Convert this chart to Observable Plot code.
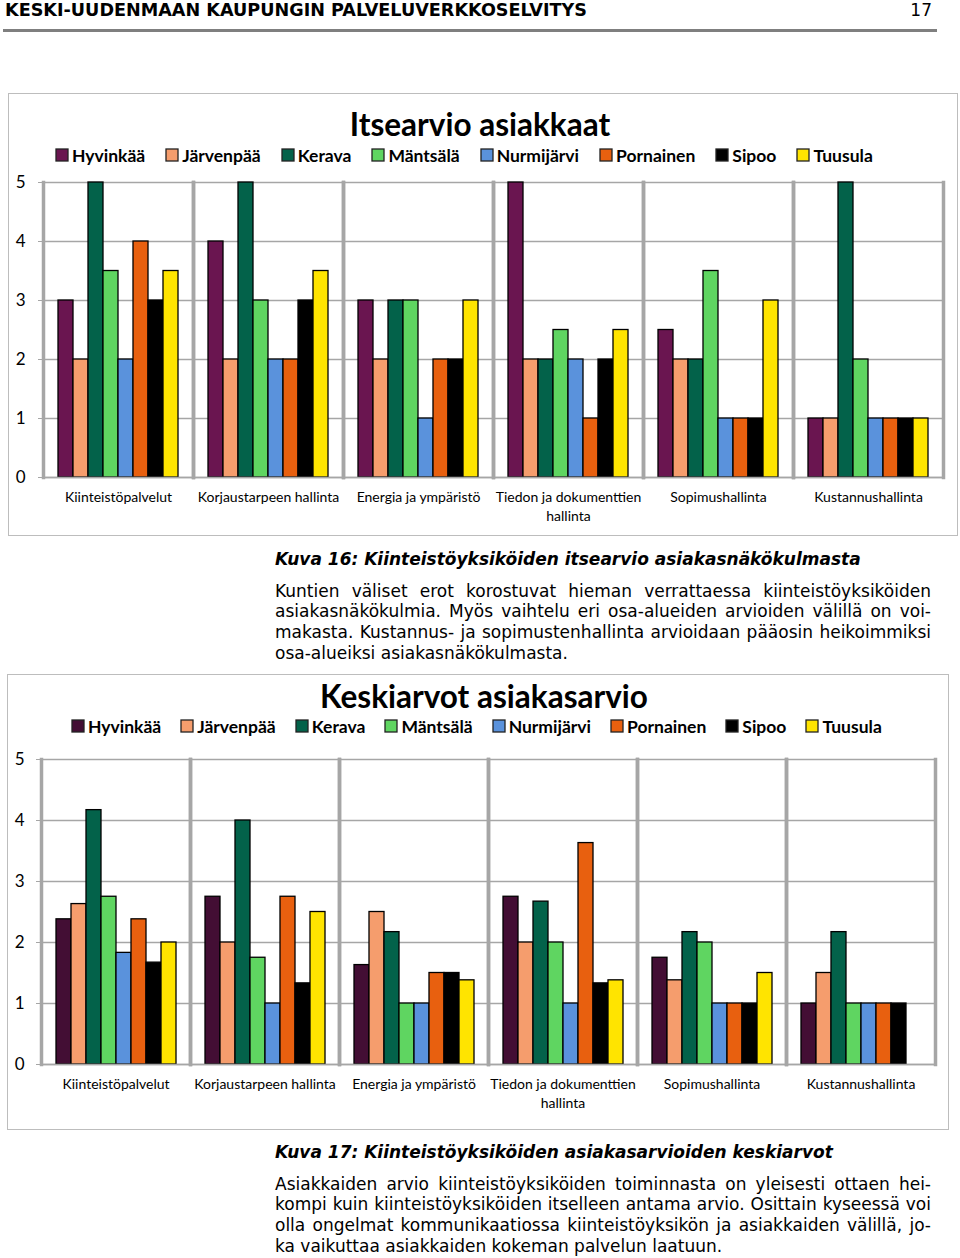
<!DOCTYPE html>
<html>
<head>
<meta charset="utf-8">
<script src="https://cdn.jsdelivr.net/npm/d3@7"></script>
<script src="https://cdn.jsdelivr.net/npm/@observablehq/plot@0.6"></script>
<style>
  html, body { margin: 0; padding: 0; background: #fff; }
  body { width: 960px; height: 1258px; position: relative; overflow: hidden; font-family: "DejaVu Sans", sans-serif; color: #000; }
  .abs { position: absolute; }
  #header { left: 5px; top: 0px; font: bold 17.6px "DejaVu Sans"; line-height: 20px; white-space: nowrap; }
  #pagenum { right: 28px; top: 0px; font: 17px "DejaVu Sans"; line-height: 20px; }
  #rule { left: 3px; top: 29px; width: 934px; height: 3px; background: #7f7f7f; }
  .box { border: 1.5px solid #bdbdbd; box-sizing: border-box; }
  .title { font-family: Lato, sans-serif; font-weight: bold; font-size: 31.5px; line-height: 1.2; text-align: center; white-space: nowrap; }
  .leg div.lg-swatches { font-family: Lato, sans-serif !important; font-weight: bold; font-size: 17.5px !important; margin: 0 !important; min-height: 24px !important; flex-wrap: nowrap !important; color: #000; }
  #leg1 span.lg-swatch { margin-right: 21px !important; }
  #leg2 span.lg-swatch { margin-right: 20px !important; }
  .leg span.lg-swatch > svg { margin-right: 4px !important; overflow: visible; }
  .leg span.lg-swatch > svg rect { stroke: #222; stroke-width: 1.3px; }
  .chart svg { background: transparent !important; overflow: visible; }
  .caption { left: 275px; font: italic bold 17px "DejaVu Sans"; line-height: 20px; white-space: nowrap; }
  .para { left: 275px; width: 656px; font: 17px "DejaVu Sans"; }
  .para div { height: 20.7px; line-height: 20.7px; text-align: justify; text-align-last: justify; white-space: nowrap; }
  .para div.last { text-align-last: left; }
</style>
</head>
<body>
<div id="header" class="abs">KESKI-UUDENMAAN KAUPUNGIN PALVELUVERKKOSELVITYS</div>
<div id="pagenum" class="abs">17</div>
<div id="rule" class="abs"></div>

<div class="abs box" style="left:8px; top:93px; width:950px; height:443px;"></div>
<div class="abs title" style="left:0px; top:106px; width:960px;">Itsearvio asiakkaat</div>
<div id="leg1" class="abs leg" style="left:56px; top:143px;"></div>
<div id="chart1" class="abs chart" style="left:0px; top:170px;"></div>
<div class="abs caption" style="top:549px;">Kuva 16: Kiinteistöyksiköiden itsearvio asiakasnäkökulmasta</div>
<div class="abs para" style="top:580.6px;">
  <div>Kuntien väliset erot korostuvat hieman verrattaessa kiinteistöyksiköiden</div>
  <div>asiakasnäkökulmia. Myös vaihtelu eri osa-alueiden arvioiden välillä on voi-</div>
  <div>makasta. Kustannus- ja sopimustenhallinta arvioidaan pääosin heikoimmiksi</div>
  <div class="last">osa-alueiksi asiakasnäkökulmasta.</div>
</div>

<div class="abs box" style="left:7px; top:674px; width:942px; height:456px;"></div>
<div class="abs title" style="left:4px; top:678px; width:960px;">Keskiarvot asiakasarvio</div>
<div id="leg2" class="abs leg" style="left:72px; top:714px;"></div>
<div id="chart2" class="abs chart" style="left:0px; top:745px;"></div>
<div class="abs caption" style="top:1142px;">Kuva 17: Kiinteistöyksiköiden asiakasarvioiden keskiarvot</div>
<div class="abs para" style="top:1173.6px;">
  <div>Asiakkaiden arvio kiinteistöyksiköiden toiminnasta on yleisesti ottaen hei-</div>
  <div>kompi kuin kiinteistöyksiköiden itselleen antama arvio. Osittain kyseessä voi</div>
  <div>olla ongelmat kommunikaatiossa kiinteistöyksikön ja asiakkaiden välillä, jo-</div>
  <div class="last">ka vaikuttaa asiakkaiden kokeman palvelun laatuun.</div>
</div>

<script>
// ---------- data ----------
const categories = ["Kiinteistöpalvelut", "Korjaustarpeen hallinta", "Energia ja ympäristö", "Tiedon ja dokumenttien hallinta", "Sopimushallinta", "Kustannushallinta"];
const categoryLabels = ["Kiinteistöpalvelut", "Korjaustarpeen hallinta", "Energia ja ympäristö", "Tiedon ja dokumenttien\nhallinta", "Sopimushallinta", "Kustannushallinta"];
const municipalities = ["Hyvinkää", "Järvenpää", "Kerava", "Mäntsälä", "Nurmijärvi", "Pornainen", "Sipoo", "Tuusula"];
const yTicks = [0, 1, 2, 3, 4, 5];

// Chart 1: Itsearvio asiakkaat (values per municipality, in category order)
const selfHyvinkaa   = [3, 4, 3, 5, 2.5, 1];
const selfJarvenpaa  = [2, 2, 2, 2, 2, 1];
const selfKerava     = [5, 5, 3, 2, 2, 5];
const selfMantsala   = [3.5, 3, 3, 2.5, 3.5, 2];
const selfNurmijarvi = [2, 2, 1, 2, 1, 1];
const selfPornainen  = [4, 2, 2, 1, 1, 1];
const selfSipoo      = [3, 3, 2, 2, 1, 1];
const selfTuusula    = [3.5, 3.5, 3, 2.5, 3, 1];

// Chart 2: Keskiarvot asiakasarvio
const avgHyvinkaa   = [2.38, 2.75, 1.63, 2.75, 1.75, 1];
const avgJarvenpaa  = [2.63, 2, 2.5, 2, 1.38, 1.5];
const avgKerava     = [4.17, 4, 2.17, 2.67, 2.17, 2.17];
const avgMantsala   = [2.75, 1.75, 1, 2, 2, 1];
const avgNurmijarvi = [1.83, 1, 1, 1, 1, 1];
const avgPornainen  = [2.38, 2.75, 1.5, 3.63, 1, 1];
const avgSipoo      = [1.67, 1.33, 1.5, 1.33, 1, 1];
const avgTuusula    = [2, 2.5, 1.38, 1.38, 1.5, null];

const colors1 = ["#6a1550", "#f59d6d", "#03624a", "#5fd561", "#5a92dc", "#e8600f", "#000000", "#ffe400"];
const colors2 = ["#430e34", "#f59d6d", "#03624a", "#5fd561", "#5a92dc", "#e8600f", "#000000", "#ffe400"];

function toRows(series) {
  return municipalities.flatMap((m, i) => categories.map((c, j) => ({category: c, municipality: m, value: series[i][j]})));
}
const selfRows = toRows([selfHyvinkaa, selfJarvenpaa, selfKerava, selfMantsala, selfNurmijarvi, selfPornainen, selfSipoo, selfTuusula]);
const avgRows = toRows([avgHyvinkaa, avgJarvenpaa, avgKerava, avgMantsala, avgNurmijarvi, avgPornainen, avgSipoo, avgTuusula]);

function makeChart(rows, colors, o) {
  const grid = "#a6a6a6";
  return Plot.plot({
    width: o.width, height: o.height,
    marginLeft: o.marginLeft, marginRight: o.marginRight, marginTop: o.marginTop, marginBottom: o.marginBottom,
    style: {background: "transparent", fontFamily: "Lato, sans-serif", color: "#000"},
    fx: {domain: categories, padding: 0, label: null},
    x: {domain: municipalities, paddingInner: 0, paddingOuter: o.pad, axis: null},
    y: {domain: [0, 5], label: null},
    color: {domain: municipalities, range: colors},
    marks: [
      Plot.gridY(yTicks, {stroke: grid, strokeOpacity: 1, strokeWidth: 1.7}),
      Plot.frame({anchor: "left", stroke: grid, strokeOpacity: 1, strokeWidth: 3.5}),
      Plot.frame({anchor: "right", stroke: grid, strokeOpacity: 1, strokeWidth: 3.5}),
      Plot.barY(rows.filter(d => d.value != null), {fx: "category", x: "municipality", y: "value", fill: "municipality", stroke: "#000", strokeWidth: 1.3}),
      Plot.ruleY([0], {stroke: grid, strokeWidth: 1.7}),
      Plot.axisY(yTicks, {tickSize: 5, tickPadding: o.yPad, stroke: grid, fill: "#000", fontSize: 17, fontFamily: "Lato, sans-serif", label: null, tickFormat: d3.format("d")}),
      Plot.axisFx({anchor: "bottom", tickSize: 0, tickPadding: o.fxPad, fontSize: 14, fontFamily: "Lato, sans-serif", lineHeight: 1.36, fill: "#000", label: null,
                   tickFormat: c => categoryLabels[categories.indexOf(c)]})
    ]
  });
}

const chart1 = makeChart(selfRows, colors1, {width: 958, height: 360, marginLeft: 42, marginRight: 15, marginTop: 12, marginBottom: 53, pad: 0.72, yPad: 13, fxPad: 11});
document.getElementById("chart1").appendChild(chart1);
document.getElementById("leg1").appendChild(chart1.legend("color", {swatchSize: 12, className: "lg"}));

const chart2 = makeChart(avgRows, colors2, {width: 950, height: 380, marginLeft: 38, marginRight: 13, marginTop: 14, marginBottom: 61, pad: 0.76, yPad: 12, fxPad: 11});
document.getElementById("chart2").appendChild(chart2);
document.getElementById("leg2").appendChild(chart2.legend("color", {swatchSize: 12, className: "lg"}));
</script>
</body>
</html>
